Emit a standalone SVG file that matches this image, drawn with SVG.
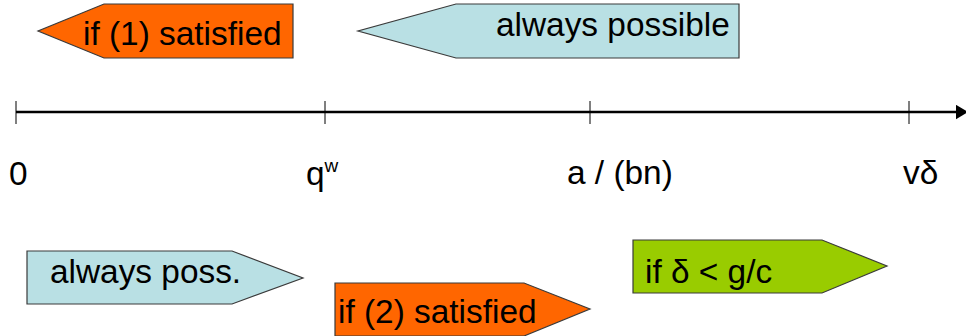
<svg xmlns="http://www.w3.org/2000/svg" width="966" height="336" viewBox="0 0 966 336">
<style>
.sh{stroke:#3a3a3a;stroke-width:1.2}
.or{fill:#FF6600}
.bl{fill:#B9E0E4}
.gr{fill:#99CC00}
text{font-family:"Liberation Sans",Arial,sans-serif;font-size:33.4px;fill:#000}
.tick{stroke:#000;stroke-width:1}
.axis{stroke:#000;stroke-width:2.5}
</style>
<defs>
<marker id="arr" markerWidth="6" markerHeight="6" refX="3" refY="3" orient="auto" markerUnits="strokeWidth">
<path d="M0,0 L5,3 L0,6 Z" fill="#000"/>
</marker>
</defs>
<g id="connectors">
<line class="axis" x1="16" y1="112" x2="963" y2="112" marker-end="url(#arr)"/>
<line class="tick" x1="16" y1="101" x2="16" y2="124"/>
<line class="tick" x1="325" y1="101" x2="325" y2="124"/>
<line class="tick" x1="590" y1="101" x2="590" y2="124"/>
<line class="tick" x1="909" y1="101" x2="909" y2="124"/>
</g>
<g id="label-0"><text x="9" y="185">0</text></g>
<g id="label-qw"><text x="306" y="185">q<tspan font-size="19" dy="-13">w</tspan></text></g>
<g id="label-abn"><text x="567" y="184">a / (bn)</text></g>
<g id="label-vd"><text x="903" y="184">vδ</text></g>
<g id="cond1">
<polygon class="sh or" points="104,4 293,4 293,58 104,58 38,31"/>
<text x="83" y="45">if (1) satisfied</text>
</g>
<g id="always-possible">
<polygon class="sh bl" points="456,4 739,4 739,58 456,58 358,31"/>
<text x="496" y="36">always possible</text>
</g>
<g id="always-poss">
<polygon class="sh bl" points="27,251 232,251 303,278 232,304 27,304"/>
<text x="50" y="283">always poss.</text>
</g>
<g id="cond2">
<polygon class="sh or" points="335,283 524,283 590,309 524,336 335,336"/>
<text x="338" y="323">if (2) satisfied</text>
</g>
<g id="cond-delta">
<polygon class="sh gr" points="633,240 822,240 887,266 822,293 633,293"/>
<text x="645" y="283">if δ &lt; g/c</text>
</g>
</svg>
